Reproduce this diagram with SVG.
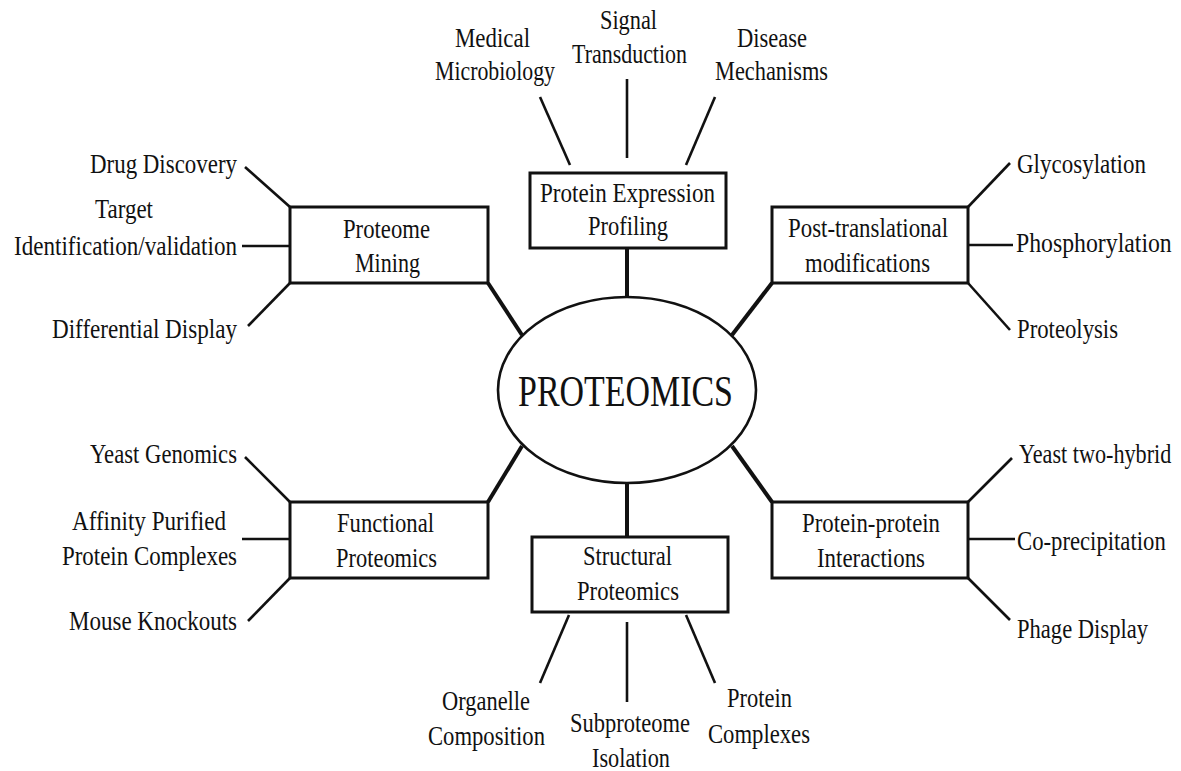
<svg xmlns="http://www.w3.org/2000/svg" width="1181" height="771" viewBox="0 0 1181 771">
<style>
text{font-family:"Liberation Serif","Times New Roman",serif;font-size:27px;fill:#111}
.box{fill:#fff;stroke:#111;stroke-width:3}
.ln{stroke:#111;stroke-width:2.6;fill:none}
.hub{stroke:#111;stroke-width:4;fill:none}
.big{font-size:45px}
</style>
<rect width="1181" height="771" fill="#fff"/>
<g id="connectors">
<line class="hub" x1="627" y1="248" x2="627" y2="297"/>
<line class="hub" x1="627" y1="483" x2="627" y2="537"/>
<line class="hub" x1="488" y1="283" x2="522" y2="335"/>
<line class="hub" x1="772" y1="283" x2="732" y2="335"/>
<line class="hub" x1="488" y1="502" x2="522" y2="446"/>
<line class="hub" x1="772" y1="502" x2="732" y2="446"/>
<line class="ln" x1="540" y1="97" x2="570" y2="165"/>
<line class="ln" x1="627" y1="79" x2="627" y2="158"/>
<line class="ln" x1="715" y1="97" x2="686" y2="165"/>
<line class="ln" x1="245" y1="167" x2="290" y2="207"/>
<line class="ln" x1="242" y1="246" x2="290" y2="246"/>
<line class="ln" x1="248" y1="326" x2="290" y2="283"/>
<line class="ln" x1="1010" y1="163" x2="968" y2="207"/>
<line class="ln" x1="968" y1="245" x2="1013" y2="245"/>
<line class="ln" x1="1010" y1="330" x2="968" y2="283"/>
<line class="ln" x1="245" y1="457" x2="290" y2="502"/>
<line class="ln" x1="242" y1="539" x2="290" y2="539"/>
<line class="ln" x1="248" y1="621" x2="290" y2="578"/>
<line class="ln" x1="1012" y1="458" x2="968" y2="502"/>
<line class="ln" x1="968" y1="539" x2="1015" y2="539"/>
<line class="ln" x1="1010" y1="620" x2="968" y2="578"/>
<line class="ln" x1="569" y1="615" x2="540" y2="683"/>
<line class="ln" x1="627" y1="622" x2="627" y2="702"/>
<line class="ln" x1="686" y1="615" x2="715" y2="683"/>
</g>
<g id="proteomics">
<ellipse cx="627" cy="390" rx="129" ry="93" fill="#fff" stroke="#111" stroke-width="2.6"/>
<text class="big" x="518" y="406" textLength="215" lengthAdjust="spacingAndGlyphs">PROTEOMICS</text>
</g>
<g id="expression">
<rect class="box" x="530" y="173" width="196" height="75"/>
<text x="540" y="202" textLength="175" lengthAdjust="spacingAndGlyphs">Protein Expression</text>
<text x="588" y="235" textLength="80" lengthAdjust="spacingAndGlyphs">Profiling</text>
</g>
<g id="mining">
<rect class="box" x="290" y="207" width="198" height="76"/>
<text x="343" y="238" textLength="87" lengthAdjust="spacingAndGlyphs">Proteome</text>
<text x="355" y="272" textLength="65" lengthAdjust="spacingAndGlyphs">Mining</text>
</g>
<g id="ptm">
<rect class="box" x="772" y="207" width="196" height="76"/>
<text x="788" y="237" textLength="160" lengthAdjust="spacingAndGlyphs">Post-translational</text>
<text x="805" y="272" textLength="125" lengthAdjust="spacingAndGlyphs">modifications</text>
</g>
<g id="functional">
<rect class="box" x="290" y="502" width="198" height="76"/>
<text x="337" y="532" textLength="97" lengthAdjust="spacingAndGlyphs">Functional</text>
<text x="336" y="567" textLength="101" lengthAdjust="spacingAndGlyphs">Proteomics</text>
</g>
<g id="ppi">
<rect class="box" x="772" y="502" width="196" height="76"/>
<text x="802" y="532" textLength="138" lengthAdjust="spacingAndGlyphs">Protein-protein</text>
<text x="817" y="567" textLength="108" lengthAdjust="spacingAndGlyphs">Interactions</text>
</g>
<g id="structural">
<rect class="box" x="532" y="537" width="196" height="75"/>
<text x="583" y="565" textLength="89" lengthAdjust="spacingAndGlyphs">Structural</text>
<text x="577" y="600" textLength="102" lengthAdjust="spacingAndGlyphs">Proteomics</text>
</g>
<g id="leaf-medical">
<text x="455" y="47" textLength="75" lengthAdjust="spacingAndGlyphs">Medical</text>
<text x="435" y="80" textLength="120" lengthAdjust="spacingAndGlyphs">Microbiology</text>
</g>
<g id="leaf-signal">
<text x="600" y="29" textLength="57" lengthAdjust="spacingAndGlyphs">Signal</text>
<text x="572" y="63" textLength="115" lengthAdjust="spacingAndGlyphs">Transduction</text>
</g>
<g id="leaf-disease">
<text x="737" y="47" textLength="70" lengthAdjust="spacingAndGlyphs">Disease</text>
<text x="715" y="80" textLength="113" lengthAdjust="spacingAndGlyphs">Mechanisms</text>
</g>
<g id="leaf-drug"><text x="90" y="173" textLength="147" lengthAdjust="spacingAndGlyphs">Drug Discovery</text></g>
<g id="leaf-target">
<text x="95" y="218" textLength="58" lengthAdjust="spacingAndGlyphs">Target</text>
<text x="14" y="255" textLength="223" lengthAdjust="spacingAndGlyphs">Identification/validation</text>
</g>
<g id="leaf-differential"><text x="52" y="338" textLength="185" lengthAdjust="spacingAndGlyphs">Differential Display</text></g>
<g id="leaf-glyco"><text x="1017" y="173" textLength="129" lengthAdjust="spacingAndGlyphs">Glycosylation</text></g>
<g id="leaf-phospho"><text transform="translate(1016 252) scale(0.88 1)" x="0" y="0" textLength="177" lengthAdjust="spacingAndGlyphs">Phosphorylation</text></g>
<g id="leaf-proteolysis"><text x="1017" y="338" textLength="101" lengthAdjust="spacingAndGlyphs">Proteolysis</text></g>
<g id="leaf-yeastgen"><text x="90" y="463" textLength="147" lengthAdjust="spacingAndGlyphs">Yeast Genomics</text></g>
<g id="leaf-affinity">
<text x="72" y="530" textLength="154" lengthAdjust="spacingAndGlyphs">Affinity Purified</text>
<text x="62" y="565" textLength="175" lengthAdjust="spacingAndGlyphs">Protein Complexes</text>
</g>
<g id="leaf-mouse"><text x="69" y="630" textLength="168" lengthAdjust="spacingAndGlyphs">Mouse Knockouts</text></g>
<g id="leaf-y2h"><text transform="translate(1019 463) scale(0.81 1)" x="0" y="0" textLength="188" lengthAdjust="spacingAndGlyphs">Yeast two-hybrid</text></g>
<g id="leaf-coprecip"><text transform="translate(1017 550) scale(0.85 1)" x="0" y="0" textLength="175" lengthAdjust="spacingAndGlyphs">Co-precipitation</text></g>
<g id="leaf-phage"><text x="1017" y="638" textLength="131" lengthAdjust="spacingAndGlyphs">Phage Display</text></g>
<g id="leaf-organelle">
<text x="442" y="710" textLength="88" lengthAdjust="spacingAndGlyphs">Organelle</text>
<text x="428" y="745" textLength="117" lengthAdjust="spacingAndGlyphs">Composition</text>
</g>
<g id="leaf-subproteome">
<text x="570" y="732" textLength="120" lengthAdjust="spacingAndGlyphs">Subproteome</text>
<text x="592" y="767" textLength="78" lengthAdjust="spacingAndGlyphs">Isolation</text>
</g>
<g id="leaf-complexes">
<text x="727" y="707" textLength="65" lengthAdjust="spacingAndGlyphs">Protein</text>
<text x="708" y="743" textLength="102" lengthAdjust="spacingAndGlyphs">Complexes</text>
</g>
</svg>
